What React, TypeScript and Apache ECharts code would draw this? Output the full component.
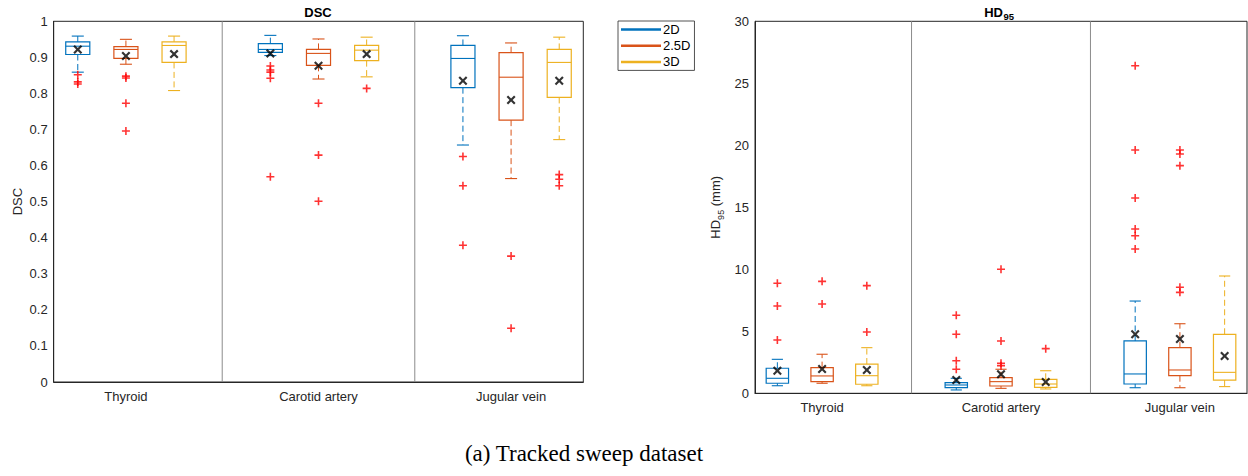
import React, { useEffect, useRef } from 'react';
import * as echarts from 'echarts';

const categories = ['Thyroid', 'Carotid artery', 'Jugular vein'];
const methods = ['2D', '2.5D', '3D'];
const methodColors = ['#0072BD', '#D95319', '#EDB120'];
const dividerPositions = [4, 8];

// box stats per category: [lower whisker, Q1, median, Q3, upper whisker]
const dsc2D = [
  [0.859, 0.908, 0.931, 0.943, 0.959],
  [0.905, 0.914, 0.922, 0.938, 0.961],
  [0.657, 0.816, 0.897, 0.933, 0.96],
];
const dsc25D = [
  [0.881, 0.897, 0.922, 0.93, 0.95],
  [0.84, 0.878, 0.911, 0.922, 0.951],
  [0.564, 0.726, 0.845, 0.913, 0.94],
];
const dsc3D = [
  [0.808, 0.886, 0.933, 0.943, 0.959],
  [0.846, 0.891, 0.92, 0.933, 0.956],
  [0.672, 0.789, 0.886, 0.922, 0.956],
];
const dscMean2D = [0.922, 0.911, 0.835];
const dscMean25D = [0.904, 0.877, 0.782];
const dscMean3D = [0.909, 0.909, 0.835];
const dscOut2D = [[0.852, 0.832, 0.826], [0.876, 0.865, 0.859, 0.842, 0.569], [0.625, 0.544, 0.379]];
const dscOut25D = [[0.848, 0.843, 0.773, 0.696], [0.773, 0.629, 0.501], [0.349, 0.149]];
const dscOut3D = [[], [0.814], [0.575, 0.562, 0.544]];

const hd2D = [
  [0.61, 0.81, 1.21, 2.02, 2.74],
  [0.27, 0.45, 0.67, 0.86, 1.21],
  [0.45, 0.75, 1.56, 4.22, 7.44],
];
const hd25D = [
  [0.81, 0.94, 1.4, 2.07, 3.15],
  [0.4, 0.59, 0.94, 1.26, 1.94],
  [0.45, 1.42, 1.88, 3.68, 5.61],
];
const hd3D = [
  [0.61, 0.73, 1.42, 2.36, 3.68],
  [0.35, 0.48, 0.75, 1.13, 1.82],
  [0.54, 1.07, 1.69, 4.76, 9.46],
];
const hdMean2D = [1.82, 1.07, 4.76];
const hdMean25D = [1.96, 1.53, 4.38];
const hdMean3D = [1.88, 0.91, 3.01];
const hdOut2D = [[4.3, 7.04, 8.87], [1.94, 2.63, 4.76, 6.29], [11.64, 12.71, 13.25, 15.75, 19.62, 26.42]];
const hdOut25D = [[7.2, 9.03], [2.23, 2.42, 4.22, 10.0], [8.14, 8.55, 18.36, 19.3, 19.62]];
const hdOut3D = [[4.94, 8.68], [3.6], []];

const dscTicks = { min: 0, max: 1, interval: 0.1 };
const hdTicks = { min: 0, max: 30, interval: 5 };

const FONT = '"Liberation Sans", Arial, Helvetica, sans-serif';
const AXIS_COLOR = '#262626';
const CROSS = 'path://M4,0h2v4h4v2h-4v4h-2v-4h-4v-2h4z';
const XMARK =
  'path://M0,1.7L1.7,0L5,3.3L8.3,0L10,1.7L6.7,5L10,8.3L8.3,10L5,6.7L1.7,10L0,8.3L3.3,5Z';

const pos = (g: number, m: number) => 1 + 4 * g + m;

const renderBox = (params: any, api: any) => {
  const x = api.value(0);
  const lo = api.coord([x, api.value(1)]);
  const q1 = api.coord([x, api.value(2)]);
  const med = api.coord([x, api.value(3)]);
  const q3 = api.coord([x, api.value(4)]);
  const hi = api.coord([x, api.value(5)]);
  const bw = api.size([0.5, 0])[0];
  const cw = bw / 2;
  const cx = lo[0];
  const color = api.visual('color');
  const dash = { stroke: color, lineWidth: 1, lineDash: [6, 3.5], fill: null };
  const solid = { stroke: color, lineWidth: 1.1, fill: null };
  return {
    type: 'group',
    children: [
      { type: 'line', shape: { x1: cx, y1: q3[1], x2: cx, y2: hi[1] }, style: dash },
      { type: 'line', shape: { x1: cx, y1: q1[1], x2: cx, y2: lo[1] }, style: dash },
      { type: 'line', shape: { x1: cx - cw / 2, y1: hi[1], x2: cx + cw / 2, y2: hi[1] }, style: solid },
      { type: 'line', shape: { x1: cx - cw / 2, y1: lo[1], x2: cx + cw / 2, y2: lo[1] }, style: solid },
      {
        type: 'rect',
        shape: { x: cx - bw / 2, y: q3[1], width: bw, height: q1[1] - q3[1] },
        style: { stroke: color, lineWidth: 1.2, fill: 'rgba(0,0,0,0)' },
      },
      { type: 'line', shape: { x1: cx - bw / 2, y1: med[1], x2: cx + bw / 2, y2: med[1] }, style: solid },
    ],
  };
};

const renderDivider = (params: any, api: any) => {
  const x = api.value(0);
  const cs = params.coordSys;
  const p = api.coord([x, 0]);
  return {
    type: 'line',
    shape: { x1: p[0], y1: cs.y, x2: p[0], y2: cs.y + cs.height },
    style: { stroke: '#8c8c8c', lineWidth: 1 },
  };
};

function buildPanel(idx: number, stats: number[][][], means: number[][], outs: number[][][]) {
  const series: any[] = [];
  series.push({
    type: 'custom',
    name: 'divider' + idx,
    xAxisIndex: idx,
    yAxisIndex: idx,
    renderItem: renderDivider,
    data: dividerPositions.map((d) => [d]),
    encode: { x: 0 },
    silent: true,
    z: 1,
  });
  stats.forEach((st, m) => {
    series.push({
      type: 'custom',
      name: methods[m],
      xAxisIndex: idx,
      yAxisIndex: idx,
      renderItem: renderBox,
      itemStyle: { color: methodColors[m] },
      data: st.map((s, g) => [pos(g, m), ...s]),
      encode: { x: 0, y: [1, 2, 3, 4, 5] },
      z: 2,
    });
  });
  const outData: number[][] = [];
  outs.forEach((o, m) => o.forEach((vals, g) => vals.forEach((v) => outData.push([pos(g, m), v]))));
  series.push({
    type: 'scatter',
    name: 'outliers' + idx,
    xAxisIndex: idx,
    yAxisIndex: idx,
    symbol: CROSS,
    symbolSize: 8,
    itemStyle: { color: '#FF0000' },
    data: outData,
    z: 3,
  });
  const meanData: number[][] = [];
  means.forEach((mv, m) => mv.forEach((v, g) => meanData.push([pos(g, m), v])));
  series.push({
    type: 'scatter',
    name: 'mean' + idx,
    xAxisIndex: idx,
    yAxisIndex: idx,
    symbol: XMARK,
    symbolSize: 9,
    itemStyle: { color: '#000000' },
    data: meanData,
    z: 4,
  });
  return series;
}

export default function App() {
  const ref = useRef<HTMLDivElement>(null);
  useEffect(() => {
    if (!ref.current) return;
    const chart = echarts.init(ref.current, undefined, { renderer: 'svg' });
    const xAxisBase = (gridIndex: number) => ({
      type: 'value',
      gridIndex,
      min: 0.5,
      max: 11.5,
      axisLine: { lineStyle: { color: AXIS_COLOR, width: 1 } },
      axisTick: { show: false },
      splitLine: { show: false },
      axisLabel: {
        customValues: categories.map((c, g) => pos(g, 1)),
        formatter: (v: number) => categories[Math.round((v - 2) / 4)] ?? '',
        color: AXIS_COLOR,
        fontFamily: FONT,
        fontSize: 13,
        margin: 8,
      },
    });
    const yAxisBase = (gridIndex: number, t: any, name: string, rich: any) => ({
      type: 'value',
      gridIndex,
      min: t.min,
      max: t.max,
      interval: t.interval,
      name,
      nameLocation: 'middle',
      nameGap: 30,
      nameRotate: 90,
      nameTextStyle: { color: AXIS_COLOR, fontFamily: FONT, fontSize: 13, rich },
      axisLine: { show: true, lineStyle: { color: AXIS_COLOR, width: 1 } },
      axisTick: { show: false },
      splitLine: { show: false },
      axisLabel: { color: AXIS_COLOR, fontFamily: FONT, fontSize: 13, margin: 6 },
    });
    const subRich = {
      a: { fontFamily: FONT, fontSize: 13, color: AXIS_COLOR, lineHeight: 20, verticalAlign: 'middle' },
      b: { fontFamily: FONT, fontSize: 9, color: AXIS_COLOR, verticalAlign: 'bottom' },
    };
    const option: any = {
      animation: false,
      backgroundColor: '#ffffff',
      grid: [
        { left: 53.7, top: 21.3, width: 529.6, height: 360.7, show: true, borderColor: AXIS_COLOR, borderWidth: 1, backgroundColor: 'transparent' },
        { left: 755, top: 21.3, width: 492, height: 372, show: true, borderColor: AXIS_COLOR, borderWidth: 1, backgroundColor: 'transparent' },
      ],
      xAxis: [xAxisBase(0), xAxisBase(1)],
      yAxis: [
        yAxisBase(0, dscTicks, 'DSC', subRich),
        yAxisBase(1, hdTicks, '{a|HD}{b|95}{a| (mm)}', subRich),
      ],
      legend: {
        orient: 'vertical',
        left: 618,
        top: 21,
        data: methods.map((n, i) => ({ name: n, itemStyle: { color: methodColors[i] } })),
        icon: 'rect',
        itemWidth: 40,
        itemHeight: 2.5,
        itemGap: 3.2,
        padding: [2, 4, 2, 3],
        borderColor: AXIS_COLOR,
        borderWidth: 0.8,
        backgroundColor: '#fff',
        selectedMode: false,
        textStyle: { fontFamily: FONT, fontSize: 13, color: '#000', lineHeight: 13, padding: [0, 0, 0, -3] },
      },
      graphic: [
        {
          type: 'text',
          x: 318,
          y: 12,
          style: { text: 'DSC', font: `bold 13px ${FONT}`, fill: '#000', textAlign: 'center', textVerticalAlign: 'middle' },
        },
        {
          type: 'text',
          x: 1003,
          y: 12,
          style: { text: 'HD', font: `bold 13px ${FONT}`, fill: '#000', textAlign: 'right', textVerticalAlign: 'middle' },
        },
        {
          type: 'text',
          x: 1003.5,
          y: 16.5,
          style: { text: '95', font: `bold 9.5px ${FONT}`, fill: '#000', textAlign: 'left', textVerticalAlign: 'middle' },
        },
        {
          type: 'text',
          x: 584,
          y: 453,
          style: {
            text: '(a) Tracked sweep dataset',
            font: '23px "Liberation Serif", "DejaVu Serif", serif',
            fill: '#000',
            textAlign: 'center',
            textVerticalAlign: 'middle',
          },
        },
      ],
      series: [
        ...buildPanel(0, [dsc2D, dsc25D, dsc3D], [dscMean2D, dscMean25D, dscMean3D], [dscOut2D, dscOut25D, dscOut3D]),
        ...buildPanel(1, [hd2D, hd25D, hd3D], [hdMean2D, hdMean25D, hdMean3D], [hdOut2D, hdOut25D, hdOut3D]),
      ],
    };
    chart.setOption(option);
    return () => chart.dispose();
  }, []);
  return (
    <div
      ref={ref}
      style={{ position: 'fixed', left: 0, top: 0, width: 1248, height: 476, background: '#fff' }}
    />
  );
}
